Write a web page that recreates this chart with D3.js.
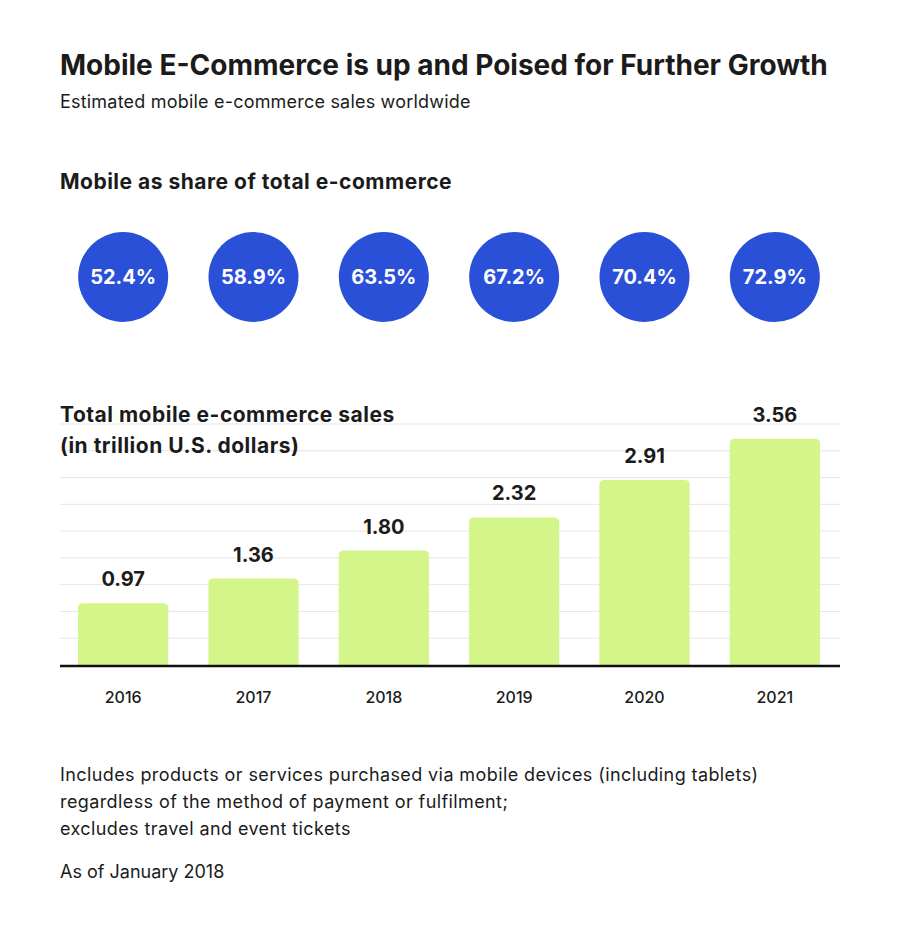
<!DOCTYPE html>
<html><head><meta charset="utf-8">
<script src="https://cdn.jsdelivr.net/npm/d3@7"></script>
<style>body{margin:0;background:#fff;} text{font-family:Inter,"Noto Sans",sans-serif;}</style>
</head><body>
<svg id="c" width="900" height="933"></svg>
<script>
const years = ["2016","2017","2018","2019","2020","2021"];
const sales = [0.97, 1.36, 1.80, 2.32, 2.91, 3.56];
const shares = [52.4, 58.9, 63.5, 67.2, 70.4, 72.9];
const footLines = [
  "Includes products or services purchased via mobile devices (including tablets)",
  "regardless of the method of payment or fulfilment;",
  "excludes travel and event tickets"
];

const svg = d3.select("#c");
const dark = "#1b1b1b";
const blue = "#2B50D8";
const green = "#D4F58A";

svg.append("text").attr("x",60).attr("y",75).attr("font-size",28).attr("font-weight",700).attr("fill",dark)
  .text("Mobile E-Commerce is up and Poised for Further Growth");
svg.append("text").attr("x",60).attr("y",108).attr("font-size",18).attr("letter-spacing",0.2).attr("fill",dark)
  .text("Estimated mobile e-commerce sales worldwide");
svg.append("text").attr("x",60).attr("y",189).attr("font-size",21).attr("letter-spacing",0.5).attr("font-weight",700).attr("fill",dark)
  .text("Mobile as share of total e-commerce");

const x = d3.scaleBand().domain(years).range([58, 840]).paddingInner(0.3077).paddingOuter(0.1538);
const bw = x.bandwidth();

// circles
const cg = svg.append("g");
cg.selectAll("circle").data(shares).join("circle")
  .attr("cx",(d,i)=>x(years[i])+bw/2).attr("cy",277).attr("r",45).attr("fill",blue);
cg.selectAll("text").data(shares).join("text")
  .attr("x",(d,i)=>x(years[i])+bw/2).attr("y",284).attr("text-anchor","middle")
  .attr("font-size",20).attr("font-weight",700).attr("fill","#fff")
  .text(d=>d.toFixed(1)+"%");

// bar chart
const yMax = 3.79;
const y = d3.scaleLinear().domain([0,yMax]).range([665,424]);
const grid = d3.range(1,10).map(k=>yMax*k/9);
svg.append("g").selectAll("line").data(grid).join("line")
  .attr("x1",60).attr("x2",840).attr("y1",d=>y(d)).attr("y2",d=>y(d))
  .attr("stroke","#e6e6e6").attr("stroke-width",1);

svg.append("text").attr("x",60).attr("y",422).attr("font-size",21).attr("letter-spacing",0.5).attr("font-weight",700).attr("fill",dark)
  .text("Total mobile e-commerce sales");
svg.append("text").attr("x",60).attr("y",453).attr("font-size",21).attr("letter-spacing",0.5).attr("font-weight",700).attr("fill",dark)
  .text("(in trillion U.S. dollars)");

const r = 5;
svg.append("g").selectAll("path").data(sales).join("path")
  .attr("fill",green)
  .attr("d",(d,i)=>{
    const x0 = x(years[i]), x1 = x0+bw, y0 = y(d), yb = y(0);
    return `M${x0},${yb}V${y0+r}Q${x0},${y0} ${x0+r},${y0}H${x1-r}Q${x1},${y0} ${x1},${y0+r}V${yb}Z`;
  });

svg.append("g").selectAll("text").data(sales).join("text")
  .attr("x",(d,i)=>x(years[i])+bw/2).attr("y",d=>y(d)-17).attr("text-anchor","middle")
  .attr("font-size",20).attr("font-weight",700).attr("fill",dark)
  .text(d=>d.toFixed(2));

svg.append("line").attr("x1",60).attr("x2",840).attr("y1",y(0)+1).attr("y2",y(0)+1)
  .attr("stroke","#111").attr("stroke-width",2.5);

const xa = svg.append("g").attr("transform",`translate(0,${y(0)})`)
  .call(d3.axisBottom(x).tickSize(0).tickPadding(27));
xa.select(".domain").remove();
xa.selectAll("text").attr("font-size",16).attr("font-weight",500).attr("fill",dark).attr("font-family","Inter, sans-serif");

svg.append("g").selectAll("text").data(footLines).join("text")
  .attr("x",60).attr("y",(d,i)=>781+i*27).attr("font-size",18).attr("letter-spacing",0.4).attr("fill",dark).text(d=>d);
svg.append("text").attr("x",60).attr("y",878).attr("font-size",18).attr("letter-spacing",0).attr("fill",dark).text("As of January 2018");
</script>
</body></html>
